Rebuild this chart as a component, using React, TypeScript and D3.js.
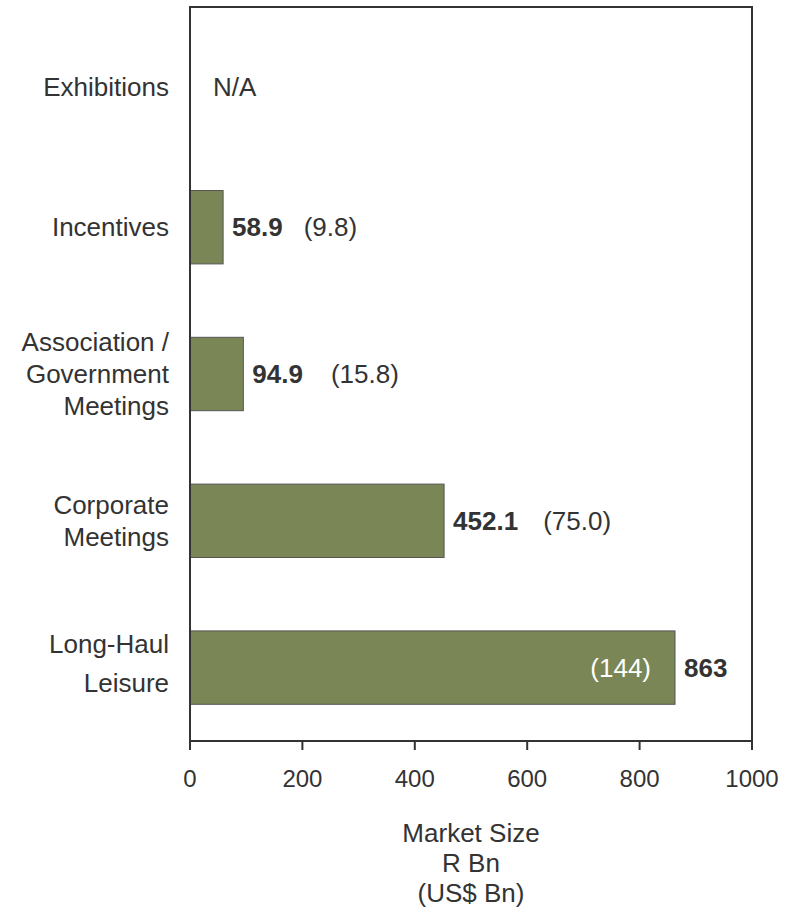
import React from "react";
import * as d3 from "d3";

const categories = ["Exhibitions", "Incentives", "Association / Government Meetings", "Corporate Meetings", "Long-Haul Leisure"];
const labelLines = [["Exhibitions"], ["Incentives"], ["Association /", "Government", "Meetings"], ["Corporate", "Meetings"], ["Long-Haul", "Leisure"]];
const randValues: (number | null)[] = [null, 58.9, 94.9, 452.1, 863];
const randLabels = ["N/A", "58.9", "94.9", "452.1", "863"];
const usdLabels = ["", "(9.8)", "(15.8)", "(75.0)", "(144)"];
const xTicks = [0, 200, 400, 600, 800, 1000];
const axisTitle = ["Market Size", "R Bn", "(US$ Bn)"];

const W = 790, H = 911;
const M = { left: 190, right: 752, top: 7, bottom: 741 };
const FONT = "'Liberation Sans', Arial, Helvetica, sans-serif";
const TXT = "#333333";
const FILL = "#7b8656";

export default function App() {
  const x = d3.scaleLinear().domain([0, 1000]).range([M.left, M.right]);
  const y = d3.scaleBand<string>().domain(categories).range([M.top, M.bottom]).paddingInner(0.5).paddingOuter(0.25);
  const bw = y.bandwidth();
  const usdGap = [0, 21, 28, 25];
  const lineGaps = [32, 32, 32, 32, 39];
  const labelShift = [6, 0, 0, 0, -4];
  const boldWidth = (s: string) => {
    let w = 0;
    for (const ch of s) w += ch === "." ? 0.278 : 0.556;
    return w * 26;
  };

  return (
    <svg width={W} height={H} style={{ position: "absolute", left: 0, top: 0, background: "#fff" }} fontFamily={FONT}>
      {categories.map((c, i) => {
        const cy = (y(c) as number) + bw / 2;
        const v = randValues[i];
        const lines = labelLines[i];
        const g = lineGaps[i];
        const startY = cy + labelShift[i] - ((lines.length - 1) * g) / 2;
        return (
          <g key={c}>
            {lines.map((l, j) => (
              <text key={j} x={169} y={startY + j * g} dy="0.35em" textAnchor="end" fontSize={26} fill={TXT}>{l}</text>
            ))}
            {v === null ? (
              <text x={x(0) + 23} y={cy + labelShift[i]} dy="0.35em" fontSize={26} fill={TXT}>{randLabels[i]}</text>
            ) : (
              <>
                <rect x={x(0)} y={y(c)} width={x(v) - x(0)} height={bw} fill={FILL} stroke="#555" strokeWidth={1} />
                <text x={x(v) + 9} y={cy} dy="0.35em" fontSize={26} fontWeight="bold" fill={TXT}>{randLabels[i]}</text>
                {i === categories.length - 1 ? (
                  <text x={x(v) - 24} y={cy} dy="0.35em" fontSize={26} textAnchor="end" fill="#ffffff">{usdLabels[i]}</text>
                ) : (
                  <text x={x(v) + 9 + boldWidth(randLabels[i]) + usdGap[i]} y={cy} dy="0.35em" fontSize={26} fill={TXT}>{usdLabels[i]}</text>
                )}
              </>
            )}
          </g>
        );
      })}
      <rect x={M.left} y={M.top} width={M.right - M.left} height={M.bottom - M.top} fill="none" stroke="#333" strokeWidth={2} />
      {xTicks.map(t => (
        <g key={t}>
          <line x1={x(t)} x2={x(t)} y1={M.bottom} y2={M.bottom + 9} stroke="#333" strokeWidth={2} />
          <text x={x(t)} y={787} textAnchor="middle" fontSize={24} fill={TXT}>{t}</text>
        </g>
      ))}
      {axisTitle.map((l, j) => (
        <text key={j} x={(M.left + M.right) / 2} y={842 + j * 30} textAnchor="middle" fontSize={26} fill={TXT}>{l}</text>
      ))}
    </svg>
  );
}
